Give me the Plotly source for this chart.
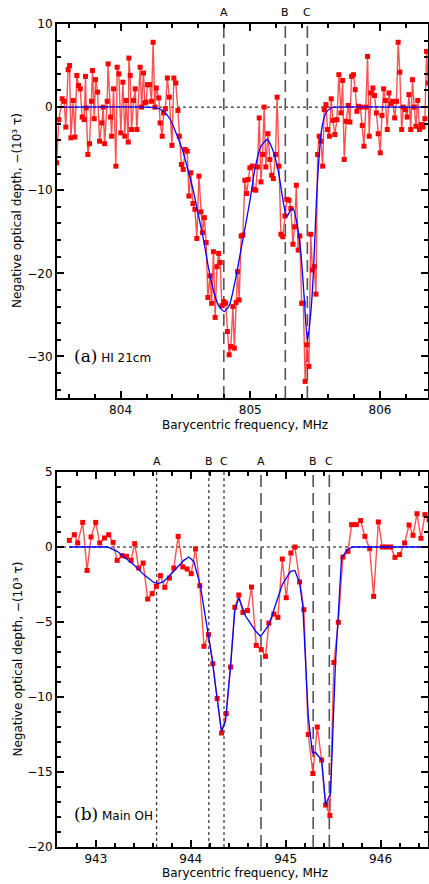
import plotly.graph_objects as go

# ---------------- Panel (a): HI 21cm ----------------
hi_freq = [803.507, 803.524, 803.550, 803.565, 803.578, 803.596, 803.607, 803.617, 803.635, 803.648,
           803.663, 803.676, 803.689, 803.704, 803.719, 803.730, 803.735, 803.748, 803.761, 803.776,
           803.784, 803.797, 803.807, 803.823, 803.838, 803.856, 803.866, 803.877, 803.897, 803.904,
           803.923, 803.931, 803.946, 803.964, 803.974, 803.987, 804.002, 804.018, 804.033, 804.043,
           804.059, 804.064, 804.074, 804.085, 804.100, 804.113, 804.126, 804.151, 804.162, 804.177,
           804.187, 804.197, 804.208, 804.224, 804.239, 804.251, 804.265, 804.275, 804.295, 804.305,
           804.321, 804.332, 804.345, 804.361, 804.376, 804.396, 804.411, 804.426, 804.442, 804.453,
           804.469, 804.483, 804.498, 804.514, 804.527, 804.542, 804.558, 804.573, 804.588, 804.604,
           804.619, 804.632, 804.646, 804.660, 804.673, 804.689, 804.702, 804.716, 804.729, 804.743,
           804.756, 804.768, 804.781, 804.797, 804.810, 804.824, 804.837, 804.850, 804.866, 804.877,
           804.891, 804.902, 804.914, 804.930, 804.943, 804.958, 804.972, 804.984, 804.997, 805.015,
           805.028, 805.042, 805.055, 805.069, 805.082, 805.095, 805.107, 805.120, 805.136, 805.151,
           805.165, 805.178, 805.194, 805.207, 805.221, 805.236, 805.251, 805.267, 805.282, 805.298,
           805.313, 805.329, 805.342, 805.355, 805.369, 805.382, 805.396, 805.409, 805.423, 805.436,
           805.452, 805.466, 805.479, 805.493, 805.506, 805.519, 805.531, 805.544, 805.558, 805.570,
           805.583, 805.596, 805.610, 805.624, 805.637, 805.652, 805.668, 805.683, 805.699, 805.712,
           805.724, 805.739, 805.755, 805.768, 805.781, 805.795, 805.809, 805.822, 805.835, 805.849,
           805.863, 805.876, 805.891, 805.904, 805.917, 805.930, 805.945, 805.958, 805.972, 805.986,
           806.002, 806.015, 806.028, 806.042, 806.056, 806.069, 806.084, 806.098, 806.113, 806.127,
           806.140, 806.153, 806.167, 806.180, 806.194, 806.209, 806.223, 806.237, 806.250, 806.264,
           806.277, 806.291, 806.304, 806.318, 806.331, 806.346, 806.359, 806.372]
hi_tau = [-6.7, -1.5, 1.0, 0.7, -2.4, 4.5, 5.0, -3.7, 0.8, -3.6,
          3.8, 2.6, 2.2, -1.2, -1.5, 3.7, -0.1, -5.7, -4.4, 0.7,
          4.4, -1.4, 3.3, 1.8, -4.1, -1.9, 0.0, -4.4, 0.7, 5.2,
          -1.2, -3.5, 2.2, -7.1, 4.8, 4.0, -3.1, 3.0, -3.5, 0.8,
          -4.2, 5.9, 3.8, -2.7, 0.8, 2.2, -2.7, 4.8, 0.0, 4.1,
          0.5, 0.6, 2.7, 2.7, 0.7, 7.8, 0.0, 2.3, 1.1, -1.9,
          -3.5, -0.7, -0.2, 3.5, 1.2, -4.6, 3.5, 2.9, -0.4, -3.5,
          -6.9, -7.5, -5.1, -5.3, -10.7, -7.9, -11.6, -12.3, -15.8, -8.3,
          -12.6, -15.1, -13.3, -16.3, -22.9, -20.3, -23.6, -17.4, -25.3, -19.2,
          -17.6, -18.7, -23.9, -23.4, -23.6, -27.0, -29.8, -28.8, -24.0, -29.0,
          -23.5, -19.8, -23.2, -15.5, -15.4, -8.8, -10.4, -8.7, -7.3, -7.1,
          -9.9, -10.0, -7.2, -1.3, -9.0, -5.7, 0.0, -7.2, -3.2, -6.3,
          -8.2, -8.6, -5.7, 1.2, -7.1, -15.3, -15.6, -13.1, -11.1, -11.2,
          -12.2, -16.5, -14.4, -9.4, -17.2, -15.5, -23.6, -23.6, -33.0, -28.6,
          -31.2, -15.3, -19.6, -19.2, -22.5, -5.7, -3.5, -4.1, -7.1, -0.3,
          0.3, -2.7, -3.5, 1.0, -1.6, -3.3, -1.5, 3.9, -0.7, 3.2,
          -6.3, -1.7, 0.2, -1.8, 3.7, 3.9, 2.1, -0.5, 0.1, 0.0,
          -2.2, -4.7, 0.0, 6.1, -3.5, 1.7, 2.3, 1.4, -0.7, -3.2,
          -5.5, -1.0, 2.2, 0.8, -2.7, 1.7, 0.4, 0.7, -1.3, 0.7,
          7.8, 4.2, -2.7, 0.0, -0.3, -1.2, 1.5, -2.7, 3.3, 0.0,
          -2.3, 0.8, -2.7, -2.1, -2.4, -1.4, 6.7, 2.9]

hi_fit_freq = [803.50, 804.20, 804.28, 804.33, 804.38, 804.43, 804.48, 804.52, 804.56, 804.60,
               804.64, 804.68, 804.72, 804.76, 804.80, 804.84, 804.89, 804.93, 804.96, 805.00,
               805.035, 805.08, 805.13, 805.17, 805.215, 805.25, 805.28, 805.31, 805.33, 805.36,
               805.39, 805.415, 805.44, 805.465, 805.485, 805.51, 805.53, 805.55, 805.58, 805.62,
               805.65, 806.37]
hi_fit_tau = [0.0, 0.0, -0.1, -0.5, -1.4, -3.2, -5.3, -7.6, -10.0, -13.0,
              -16.0, -19.5, -22.3, -24.0, -24.6, -23.8, -20.4, -17.0, -14.5, -11.0,
              -7.5, -4.8, -3.9, -5.0, -7.6, -11.0, -13.2, -12.4, -12.2, -14.0,
              -17.5, -22.8, -28.0, -25.0, -20.4, -11.2, -6.0, -2.7, -0.8, -0.1,
              0.0, 0.0]

hi_lines = [804.796, 805.27, 805.44]
line_labels = ["A", "B", "C"]

# ---------------- Panel (b): Main OH ----------------
oh_freq = [942.720, 942.773, 942.808, 942.861, 942.907, 942.949, 942.998, 943.040, 943.090, 943.135,
           943.181, 943.224, 943.276, 943.322, 943.371, 943.409, 943.451, 943.498, 943.546, 943.593,
           943.638, 943.680, 943.726, 943.775, 943.821, 943.867, 943.916, 943.962, 944.004, 944.050,
           944.095, 944.139, 944.187, 944.232, 944.278, 944.324, 944.373, 944.419, 944.464, 944.506,
           944.549, 944.598, 944.640, 944.690, 944.743, 944.788, 944.823, 944.876, 944.918, 944.964,
           945.006, 945.055, 945.097, 945.147, 945.192, 945.238, 945.287, 945.333, 945.379, 945.421,
           945.466, 945.508, 945.555, 945.603, 945.656, 945.695, 945.745, 945.790, 945.835, 945.885,
           945.927, 945.977, 946.019, 946.061, 946.107, 946.152, 946.201, 946.254, 946.300, 946.342,
           946.384, 946.426, 946.468, 946.511]
oh_tau = [0.44, 0.82, 0.27, 1.64, -1.56, 0.67, 1.64, 0.27, 0.60, 0.82,
          0.31, -0.89, -0.58, -0.62, -0.89, 0.22, -1.40, -1.07, -3.47, -3.11,
          -2.62, -1.91, -2.69, -2.07, -1.40, 0.71, -1.33, -1.47, -1.78, -0.13,
          -2.58, -6.62, -5.84, -7.78, -10.1, -12.4, -11.1, -8.0, -4.02, -3.20,
          -4.36, -4.24, -2.67, -6.56, -6.84, -7.29, -5.07, -4.47, -4.69, -0.80,
          -3.38, -0.40, 0.0, -2.33, -4.18, -12.5, -15.1, -12.0, -14.2, -17.2,
          -17.9, -7.7, -5.02, -0.67, -0.29, 1.49, 1.49, 1.76, 0.71, -0.11,
          -3.29, 1.67, 0.0, 0.0, 0.0, -0.69, -0.51, 0.27, 1.47, 0.78,
          2.22, 0.58, 2.16, 1.82]

oh_fit_freq = [942.720, 943.121, 943.224, 943.311, 943.399, 943.504, 943.610, 943.662, 943.715, 943.821,
               943.926, 943.979, 944.032, 944.102, 944.173, 944.226, 944.261, 944.324, 944.366, 944.419,
               944.464, 944.506, 944.577, 944.682, 944.735, 944.823, 944.964, 945.052, 945.097, 945.147,
               945.181, 945.210, 945.238, 945.281, 945.315, 945.379, 945.421, 945.473, 945.525, 945.589,
               945.650, 945.703, 946.520]
oh_fit_tau = [0.0, 0.0, -0.29, -0.75, -1.18, -1.84, -2.36, -2.44, -2.29, -1.62,
              -0.89, -0.67, -0.96, -2.62, -5.29, -7.5, -9.3, -12.3, -11.6, -7.96,
              -4.2, -3.4, -4.6, -5.6, -5.96, -5.2, -2.5, -1.62, -1.56, -2.4,
              -3.96, -7.5, -11.3, -13.7, -13.7, -14.2, -17.2, -16.4, -7.7, -0.73,
              -0.18, 0.0, 0.0]

oh_1665_lines = [943.64, 944.19, 944.35]
oh_1667_lines = [944.74, 945.29, 945.46]

x_title = "Barycentric frequency, MHz"
y_title = "Negative optical depth, −(10³ τ)"

# ---------------- Figure ----------------
W, H = 429, 884
ML, MR, MT, MB = 57, 1, 24, 37
ph = H - MT - MB
pw = W - ML - MR
def py(pix):
    return 1 - (pix - MT) / ph
def px(pix):
    return (pix - ML) / pw

FONT = "DejaVu Sans"
RED_LINE = "rgba(255,50,50,0.85)"
RED = "#ff0000"
BLUE = "#0000ff"

fig = go.Figure()

def add_panel(xa, ya, fx, fy, mx, my, msize, smooth):
    fig.add_trace(go.Scatter(x=fx, y=fy, mode="lines", line=dict(color=RED_LINE, width=1.4),
                             xaxis=xa, yaxis=ya, showlegend=False, hoverinfo="skip"))
    fig.add_trace(go.Scatter(x=fx, y=fy, mode="markers",
                             marker=dict(symbol="square", size=msize, color=RED, line=dict(width=0)),
                             xaxis=xa, yaxis=ya, showlegend=False))
    fig.add_trace(go.Scatter(x=mx, y=my, mode="lines",
                             line=dict(color=BLUE, width=1.3, shape="spline" if smooth else "linear",
                                       smoothing=0.6),
                             xaxis=xa, yaxis=ya, showlegend=False))

add_panel("x", "y", hi_freq, hi_tau, hi_fit_freq, hi_fit_tau, 5, True)
add_panel("x2", "y2", oh_freq, oh_tau, oh_fit_freq, oh_fit_tau, 5, False)

shapes = []
annotations = []
top_dom = [py(398), 1.0]
bot_dom = [0.0, py(472)]

# zero lines
for xr, yr in (("x", "y"), ("x2", "y2")):
    shapes.append(dict(type="line", xref=xr + " domain", yref=yr, x0=0, x1=1, y0=0, y1=0,
                       line=dict(color="black", width=1, dash="dot"), layer="below"))

def label(x, xr, ypix, text):
    annotations.append(dict(x=x, y=py(ypix), xref=xr, yref="paper", text=text, showarrow=False,
                            xanchor="center", yanchor="middle",
                            font=dict(family=FONT, size=11, color="black")))

# velocity component markers
for f, lab in zip(hi_lines, line_labels):
    shapes.append(dict(type="line", xref="x", yref="y domain", x0=f, x1=f, y0=0, y1=1,
                       line=dict(color="#555555", width=1.6, dash="12px,6px"), layer="below"))
    label(f, "x", 12.7, lab)
for f, lab in zip(oh_1665_lines, line_labels):
    shapes.append(dict(type="line", xref="x2", yref="y2 domain", x0=f, x1=f, y0=0, y1=1,
                       line=dict(color="#333333", width=1.2, dash="dot"), layer="below"))
    label(f, "x2", 461.7, lab)
for f, lab in zip(oh_1667_lines, line_labels):
    shapes.append(dict(type="line", xref="x2", yref="y2 domain", x0=f, x1=f, y0=0, y1=1,
                       line=dict(color="#555555", width=1.6, dash="12px,6px"), layer="below"))
    label(f, "x2", 461.7, lab)

# panel labels
for ypix, lab, name in ((356, "(a)", "HI 21cm"), (814, "(b)", "Main OH")):
    annotations.append(dict(x=px(72), y=py(ypix), xref="paper", yref="paper",
                            xanchor="left", yanchor="middle", showarrow=False,
                            text="<span style='font-family:DejaVu Serif;font-size:17px'>" + lab +
                                 "</span> " + name,
                            font=dict(family=FONT, size=12, color="black")))

# axis titles as annotations
for ypix in (425, 873):
    annotations.append(dict(x=px(244.5), y=py(ypix), xref="paper", yref="paper", showarrow=False,
                            text=x_title, xanchor="center", yanchor="middle",
                            font=dict(family=FONT, size=12, color="black")))
for ypix in (211, 659.5):
    annotations.append(dict(x=px(17), y=py(ypix), xref="paper", yref="paper", showarrow=False,
                            text=y_title, textangle=-90, xanchor="center", yanchor="middle",
                            font=dict(family=FONT, size=12, color="black")))

axis_common = dict(showline=True, linecolor="black", linewidth=2, mirror="allticks",
                   ticks="inside", ticklen=7, tickwidth=1.5, tickcolor="black",
                   showgrid=False, zeroline=False, automargin=False,
                   tickfont=dict(family=FONT, size=12, color="black"))

def minor(d):
    return dict(dtick=d, ticklen=4, ticks="inside", tickcolor="black", showgrid=False)

fig.update_layout(
    width=W, height=H, margin=dict(l=ML, r=MR, t=MT, b=MB, autoexpand=False),
    paper_bgcolor="white", plot_bgcolor="white",
    shapes=shapes, annotations=annotations,
    xaxis=dict(axis_common, range=[803.51, 806.37], dtick=1, tick0=804, anchor="y", minor=minor(0.2)),
    yaxis=dict(axis_common, range=[-35, 10], dtick=10, domain=top_dom, anchor="x", minor=minor(2)),
    xaxis2=dict(axis_common, range=[942.59, 946.5], dtick=1, tick0=943, anchor="y2", minor=minor(0.2)),
    yaxis2=dict(axis_common, range=[-20, 5], dtick=5, domain=bot_dom, anchor="x2", minor=minor(1)),
)

fig.write_html("out.html", config={"displayModeBar": False},
               post_script="document.body.style.margin='0';document.body.style.overflow='hidden';")
